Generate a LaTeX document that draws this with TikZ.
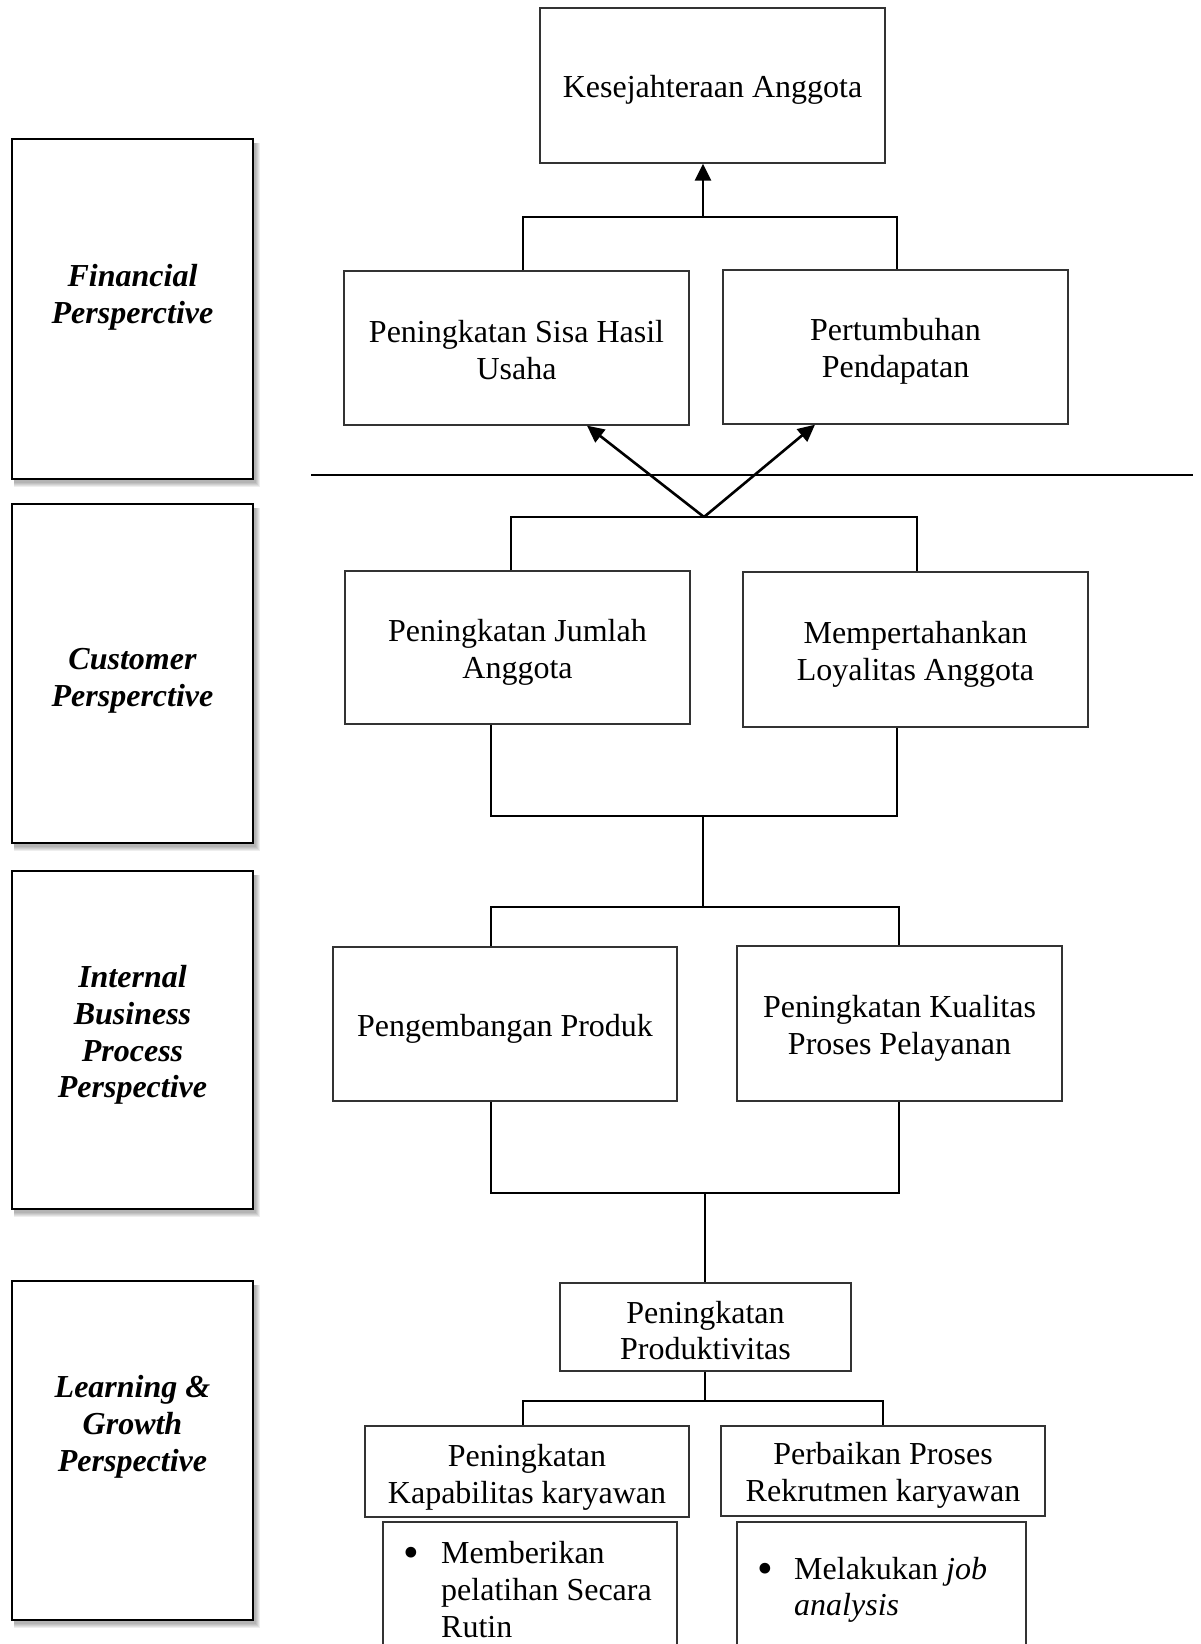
\documentclass[tikz,border=0pt]{standalone}
\usepackage{fontspec}
\setmainfont{Liberation Serif}
\usetikzlibrary{arrows.meta,backgrounds}
\begin{document}
\begin{tikzpicture}[x=1pt,y=-1pt,
  txt/.style={font=\fontsize{32}{36.8}\selectfont},
  box/.style={draw=black!80, line width=1.3pt, fill=white, inner sep=0pt},
  btxt/.style={txt, align=center, inner sep=0pt},
  pbox/.style={draw=black, line width=2.4pt, fill=white, inner sep=0pt, minimum width=241pt},
  ptext/.style={align=center, inner sep=0pt, font=\fontsize{32}{36.8}\selectfont\bfseries\itshape},
  conn/.style={line width=2pt, black},
  arr/.style={line width=2.6pt, -{Triangle[length=17pt,width=16pt]}},
  sepline/.style={line width=2.4pt},
  bdot/.style={txt, anchor=base, inner sep=0pt},
  bline/.style={txt, anchor=base west, inner sep=0pt}
]
\useasboundingbox (0,0) rectangle (1200,1644);
\clip (0,0) rectangle (1200,1644);

% perspective boxes (left)
\node[pbox, minimum height=340pt] (fin) at (132.5,309) {};
\node[pbox, minimum height=339pt] (cus) at (132.5,673.5) {};
\node[pbox, minimum height=338pt] (int) at (132.5,1040) {};
\node[pbox, minimum height=339pt] (lrn) at (132.5,1450.5) {};
\begin{scope}[on background layer]
  \foreach \b in {fin,cus,int,lrn}{
    \foreach \e in {1,2,3,4,5}{
      \fill[black,opacity=0.065] ([shift={(3,5)}]\b.north west) rectangle ([shift={(1+\e,2+\e)}]\b.south east);
    }
  }
\end{scope}
\node[ptext] (finT) at (132.5,297.5) {Financial\\Persperctive};
\node[ptext] (cusT) at (132.5,681) {Customer\\Persperctive};
\node[ptext] (intT) at (132.5,1035) {Internal\\Business\\Process\\Perspective};
\node[ptext] (lrnT) at (132.5,1426.5) {Learning \&\\Growth\\Perspective};

% main boxes
\node[box, minimum width=345pt, minimum height=155pt] (kes) at (712.5,85.5) {};
\node[box, minimum width=345pt, minimum height=154pt] (shu) at (516.5,348) {};
\node[box, minimum width=345pt, minimum height=154pt] (pend) at (895.5,347) {};
\node[box, minimum width=345pt, minimum height=153pt] (jml) at (517.5,647.5) {};
\node[box, minimum width=345pt, minimum height=155pt] (loy) at (915.5,649.5) {};
\node[box, minimum width=344pt, minimum height=154pt] (prod) at (505,1024) {};
\node[box, minimum width=325pt, minimum height=155pt] (kual) at (899.5,1023.5) {};
\node[box, minimum width=291pt, minimum height=88pt] (pdv) at (705.5,1327) {};
\node[box, minimum width=324pt, minimum height=91pt] (kap) at (527,1471.5) {};
\node[box, minimum width=324pt, minimum height=90pt] (rek) at (883,1471) {};
\node[box, minimum width=294pt, minimum height=178pt] (bulL) at (530,1611) {};
\node[box, minimum width=289pt, minimum height=178pt] (bulR) at (881.5,1611) {};

% box texts
\node[btxt] (kesT) at ([yshift=-4.5pt]kes.center) {Kesejahteraan Anggota};
\node[btxt] (shuT) at ([yshift=-2pt]shu.center) {Peningkatan Sisa Hasil\\Usaha};
\node[btxt] (pendT) at ([yshift=-4.5pt]pend.center) {Pertumbuhan\\Pendapatan};
\node[btxt] (jmlT) at ([yshift=-4.5pt]jml.center) {Peningkatan Jumlah\\Anggota};
\node[btxt] (loyT) at ([yshift=-4.5pt]loy.center) {Mempertahankan\\Loyalitas Anggota};
\node[btxt] (prodT) at ([yshift=-5pt]prod.center) {Pengembangan Produk};
\node[btxt] (kualT) at ([yshift=-4.5pt]kual.center) {Peningkatan Kualitas\\Proses Pelayanan};
\node[btxt] (pdvT) at ([yshift=-3.5pt]pdv.center) {Peningkatan\\Produktivitas};
\node[btxt] (kapT) at ([yshift=-6pt]kap.center) {Peningkatan\\Kapabilitas karyawan};
\node[btxt] (rekT) at ([yshift=-4.5pt]rek.center) {Perbaikan Proses\\Rekrutmen karyawan};

% bullet texts
\node[bdot] (bLdot) at (411,1567) {\scalebox{1.4}{\textbullet}};
\node[bline] (bL1) at (441,1563) {Memberikan};
\node[bline] (bL2) at (441,1600) {pelatihan Secara};
\node[bline] (bL3) at (441,1637) {Rutin};
\node[bdot] (bRdot) at (765,1583) {\scalebox{1.4}{\textbullet}};
\node[bline] (bR1) at (794,1579) {Melakukan \textit{job}};
\node[bline] (bR2) at (794,1615) {\textit{analysis}};

% junction coordinates
\coordinate (j1) at (703,217);
\coordinate (j1L) at (523,217);
\coordinate (j1R) at (897,217);
\coordinate (j2) at (704,517);
\coordinate (j2L) at (511,517);
\coordinate (j2R) at (917,517);
\coordinate (j3) at (703,816);
\coordinate (j3L) at (491,816);
\coordinate (j3R) at (897,816);
\coordinate (j4) at (703,907);
\coordinate (j4L) at (491,907);
\coordinate (j4R) at (899,907);
\coordinate (j5) at (705,1193);
\coordinate (j5L) at (491,1193);
\coordinate (j5R) at (899,1193);
\coordinate (j6) at (705,1401);
\coordinate (j6L) at (523,1401);
\coordinate (j6R) at (883,1401);
\coordinate (sepL) at (311,475);
\coordinate (sepR) at (1193,475);

% financial
\draw[conn] (shu.north -| j1L) -- (j1L) -- (j1R) -- (pend.north -| j1R);
\draw[arr] (j1) -- (kes.south -| j1);
% separator
\draw[sepline] (sepL) -- (sepR);
% customer
\draw[conn] (jml.north -| j2L) -- (j2L) -- (j2R) -- (loy.north -| j2R);
\draw[arr] (j2) -- ([xshift=70.5pt]shu.south);
\draw[arr] (j2) -- ([xshift=-80.5pt]pend.south);
\draw[conn] (jml.south -| j3L) -- (j3L) -- (j3R) -- (loy.south -| j3R);
\draw[conn] (j3) -- (j4);
% internal
\draw[conn] (prod.north -| j4L) -- (j4L) -- (j4R) -- (kual.north -| j4R);
\draw[conn] (prod.south -| j5L) -- (j5L) -- (j5R) -- (kual.south -| j5R);
\draw[conn] (j5) -- (pdv.north -| j5);
% learning
\draw[conn] (pdv.south -| j6) -- (j6);
\draw[conn] (kap.north -| j6L) -- (j6L) -- (j6R) -- (rek.north -| j6R);
\end{tikzpicture}
\end{document}
